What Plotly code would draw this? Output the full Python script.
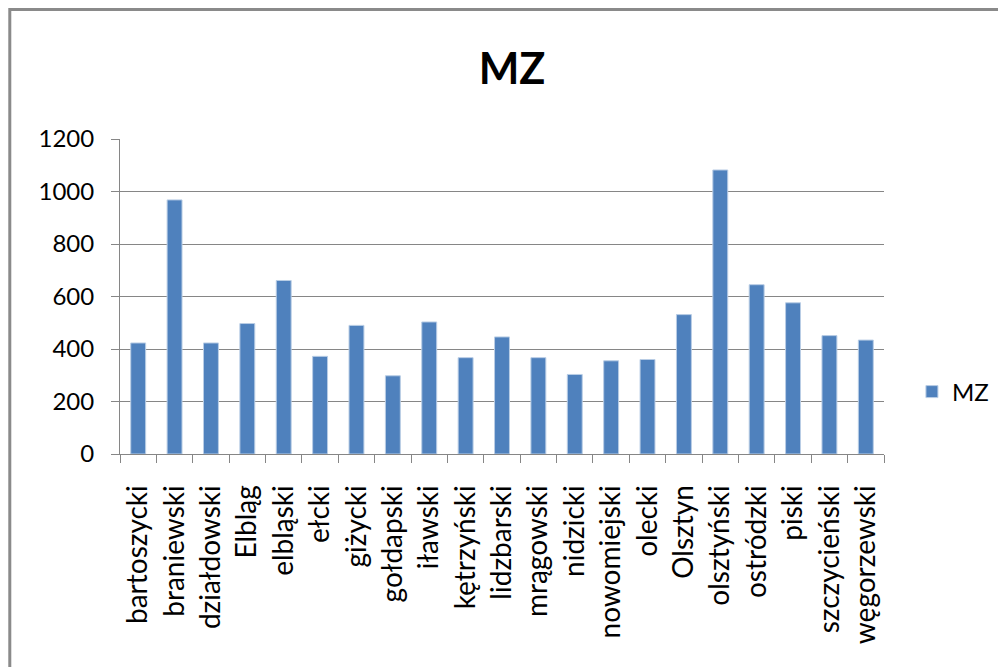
import plotly.graph_objects as go

categories = ["bartoszycki", "braniewski", "działdowski", "Elbląg", "elbląski", "ełcki",
              "giżycki", "gołdapski", "iławski", "kętrzyński", "lidzbarski", "mrągowski",
              "nidzicki", "nowomiejski", "olecki", "Olsztyn", "olsztyński", "ostródzki",
              "piski", "szczycieński", "węgorzewski"]
values_mz = [423, 968, 423, 497, 661, 372, 490, 298, 503, 367, 446, 367,
             303, 355, 360, 531, 1082, 645, 576, 451, 434]
y_ticks = [0, 200, 400, 600, 800, 1000, 1200]

OFF = 8  # page body margin
W, H = 1006 - OFF, 667 - OFF
L, R, T, B = 120 - OFF, 886 - OFF, 139 - OFF, 454 - OFF

fig = go.Figure()
fig.add_trace(go.Bar(
    x=categories, y=values_mz, name="MZ",
    marker=dict(color="#4F81BD", line=dict(color="#b9cde5", width=1)),
))

font = "Lato, 'Open Sans', 'DejaVu Sans', sans-serif"
grey = "#868686"

fig.update_layout(
    width=W, height=H,
    margin=dict(l=L, r=W - R, t=T, b=H - B, pad=0),
    paper_bgcolor="white", plot_bgcolor="white",
    font=dict(family=font, color="#000000", size=24),
    title=dict(text="<b>MZ</b>", font=dict(size=43, family=font, color="black"),
               x=(512 - OFF) / W, xref="container", xanchor="center",
               y=1 - (69 - OFF) / H, yref="container", yanchor="middle"),
    bargap=0.59,
    showlegend=True,
    legend=dict(x=(914 - OFF - L) / (R - L), xanchor="left",
                y=(B - (392 - OFF)) / (B - T), yanchor="middle",
                font=dict(size=24, family=font), itemwidth=30,
                bgcolor="rgba(0,0,0,0)"),
    xaxis=dict(type="category", tickangle=-90, tickson="boundaries",
               ticks="outside", ticklen=8, tickcolor=grey, tickwidth=1,
               showline=True, linecolor=grey, linewidth=1,
               showgrid=False, ticklabelstandoff=19,
               tickfont=dict(size=28, family=font)),
    yaxis=dict(range=[0, 1200], tickvals=y_ticks, ticks="outside", ticklen=8,
               tickcolor=grey, showline=True, linecolor=grey, linewidth=1,
               showgrid=True, gridcolor=grey, gridwidth=1, zeroline=False,
               ticklabelstandoff=12, tickfont=dict(size=24, family=font)),
    shapes=[dict(type="rect", xref="paper", yref="paper",
                 x0=(1.5 - L) / (R - L), x1=(1060 - L) / (R - L),
                 y0=(B - 720) / (B - T), y1=(B - 1.5) / (B - T),
                 line=dict(color="#8a8a8a", width=3), fillcolor="rgba(0,0,0,0)",
                 layer="below")],
)

fig.write_html("out.html")
